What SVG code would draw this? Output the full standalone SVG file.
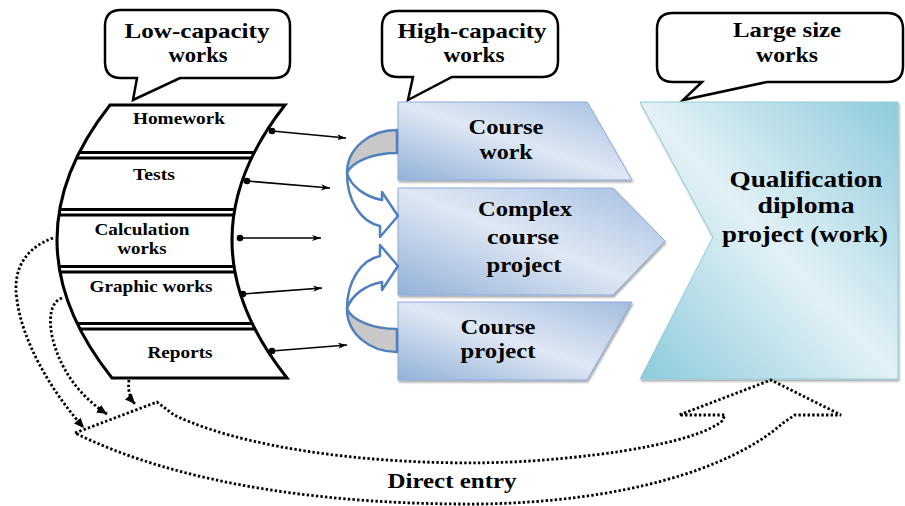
<svg xmlns="http://www.w3.org/2000/svg" width="905" height="506" viewBox="0 0 905 506">
<defs>
<style>
.t{font-family:"Liberation Serif","Times New Roman",serif;font-weight:bold;fill:#000;text-anchor:middle}
.bub{fill:#fff;stroke:#000;stroke-width:2.5;stroke-linejoin:miter}
.blk{stroke:#000;stroke-width:1.6;fill:none}
.dot{stroke:#000;stroke-width:2.8;fill:none;stroke-dasharray:2.4 2.2}
.sep{stroke:#000;stroke-width:3}
.barc{stroke:#4f81bd;stroke-width:2.5;stroke-linejoin:round}
</style>
<linearGradient id="gBlue" x1="0" y1="1" x2="1" y2="0">
<stop offset="0" stop-color="#93b1d8"/>
<stop offset="0.5" stop-color="#dfe8f4"/>
<stop offset="1" stop-color="#a3bddf"/>
</linearGradient>
<linearGradient id="gTeal" x1="0" y1="1" x2="1" y2="0">
<stop offset="0" stop-color="#8ccbdb"/>
<stop offset="0.5" stop-color="#e2f1f6"/>
<stop offset="1" stop-color="#8ecbdb"/>
</linearGradient>
<filter id="sh" x="-5%" y="-5%" width="115%" height="115%">
<feGaussianBlur in="SourceAlpha" stdDeviation="1"/>
<feOffset dx="1" dy="2" result="b"/>
<feComponentTransfer><feFuncA type="linear" slope="0.35"/></feComponentTransfer>
<feMerge><feMergeNode/><feMergeNode in="SourceGraphic"/></feMerge>
</filter>
<marker id="ah" markerWidth="10" markerHeight="8" refX="9" refY="4" orient="auto" markerUnits="userSpaceOnUse">
<path d="M0,1 L9,4 L0,7 L2.5,4 Z" fill="#000"/>
</marker>
<marker id="dh" markerWidth="12" markerHeight="10" refX="10" refY="5" orient="auto" markerUnits="userSpaceOnUse">
<path d="M0,0.5 L10,5 L0,9.5 Z" fill="#000"/>
</marker>
<clipPath id="lc"><path d="M110,105 L285,105 Q178,241 287,378 L112,378 Q3,241 110,105 Z"/></clipPath>
</defs>

<!-- callouts -->
<g id="callout-low">
<path class="bub" d="M121,10 H274 Q290,10 290,26 V62 Q290,78 274,78 H180 L133,100 L137,78 H121 Q105,78 105,62 V26 Q105,10 121,10 Z"/>
<text class="t" x="197" y="38" font-size="21" textLength="145" lengthAdjust="spacingAndGlyphs">Low-capacity</text>
<text class="t" x="198" y="62" font-size="21" textLength="59" lengthAdjust="spacingAndGlyphs">works</text>
</g>
<g id="callout-high">
<path class="bub" d="M398,11 H542 Q558,11 558,27 V61 Q558,77 542,77 H452 L408,100 L413,77 H398 Q382,77 382,61 V27 Q382,11 398,11 Z"/>
<text class="t" x="472" y="38" font-size="21" textLength="149" lengthAdjust="spacingAndGlyphs">High-capacity</text>
<text class="t" x="474" y="62" font-size="21" textLength="61" lengthAdjust="spacingAndGlyphs">works</text>
</g>
<g id="callout-large">
<path class="bub" d="M673,13 H887 Q903,13 903,29 V66 Q903,82 887,82 H767 L683,100 L702,82 H673 Q657,82 657,66 V29 Q657,13 673,13 Z"/>
<text class="t" x="787" y="37" font-size="21" textLength="108" lengthAdjust="spacingAndGlyphs">Large size</text>
<text class="t" x="787" y="62" font-size="21" textLength="62" lengthAdjust="spacingAndGlyphs">works</text>
</g>

<!-- left curved list -->
<g id="low-list">
<path d="M110,105 L285,105 Q178,241 287,378 L112,378 Q3,241 110,105 Z" fill="#fff"/>
<g clip-path="url(#lc)">
<line class="sep" x1="30" y1="152.5" x2="300" y2="152.5"/>
<line class="sep" x1="30" y1="158" x2="300" y2="158"/>
<line class="sep" x1="30" y1="209.5" x2="300" y2="209.5"/>
<line class="sep" x1="30" y1="215" x2="300" y2="215"/>
<line class="sep" x1="30" y1="266.5" x2="300" y2="266.5"/>
<line class="sep" x1="30" y1="272" x2="300" y2="272"/>
<line class="sep" x1="30" y1="323.5" x2="300" y2="323.5"/>
<line class="sep" x1="30" y1="329" x2="300" y2="329"/>
</g>
<path d="M110,105 L285,105 Q178,241 287,378 L112,378 Q3,241 110,105 Z" fill="none" stroke="#000" stroke-width="3"/>
<text class="t" x="179" y="124" font-size="16.5" textLength="92" lengthAdjust="spacingAndGlyphs">Homework</text>
<text class="t" x="154" y="180" font-size="16.5" textLength="42" lengthAdjust="spacingAndGlyphs">Tests</text>
<text class="t" x="142" y="235" font-size="16.5" textLength="95" lengthAdjust="spacingAndGlyphs">Calculation</text>
<text class="t" x="142" y="254" font-size="16.5" textLength="49" lengthAdjust="spacingAndGlyphs">works</text>
<text class="t" x="151" y="292" font-size="16.5" textLength="123" lengthAdjust="spacingAndGlyphs">Graphic works</text>
<text class="t" x="180" y="358" font-size="16.5" textLength="65" lengthAdjust="spacingAndGlyphs">Reports</text>
</g>

<!-- middle blue shapes -->
<g id="course-work">
<path d="M398,102 L587,102 L632,180 L398,180 Z" fill="url(#gBlue)" stroke="#8eaadb" stroke-width="1" filter="url(#sh)"/>
<text class="t" x="506" y="134" font-size="21" textLength="75" lengthAdjust="spacingAndGlyphs">Course</text>
<text class="t" x="506" y="159" font-size="21" textLength="53" lengthAdjust="spacingAndGlyphs">work</text>
</g>
<g id="complex-course-project">
<path d="M398,188 L613,188 L665,241 L613,295 L398,295 Z" fill="url(#gBlue)" stroke="#8eaadb" stroke-width="1" filter="url(#sh)"/>
<text class="t" x="525" y="216" font-size="21" textLength="94" lengthAdjust="spacingAndGlyphs">Complex</text>
<text class="t" x="523" y="244" font-size="21" textLength="72" lengthAdjust="spacingAndGlyphs">course</text>
<text class="t" x="524" y="272" font-size="21" textLength="75" lengthAdjust="spacingAndGlyphs">project</text>
</g>
<g id="course-project">
<path d="M398,302 L632,302 L587,380 L398,380 Z" fill="url(#gBlue)" stroke="#8eaadb" stroke-width="1" filter="url(#sh)"/>
<text class="t" x="498" y="334" font-size="21" textLength="75" lengthAdjust="spacingAndGlyphs">Course</text>
<text class="t" x="498" y="358" font-size="21" textLength="75" lengthAdjust="spacingAndGlyphs">project</text>
</g>

<!-- right big shape -->
<g id="qualification">
<path d="M640,102 L898,102 L898,379 L640,379 L713,237 Z" fill="url(#gTeal)" stroke="#92cddc" stroke-width="1" filter="url(#sh)"/>
<text class="t" x="806" y="187" font-size="23.5" textLength="153" lengthAdjust="spacingAndGlyphs">Qualification</text>
<text class="t" x="806" y="213" font-size="23.5" textLength="97" lengthAdjust="spacingAndGlyphs">diploma</text>
<text class="t" x="805" y="242" font-size="23.5" textLength="166" lengthAdjust="spacingAndGlyphs">project (work)</text>
</g>

<!-- connectors -->
<g id="connectors">
<g id="solid-arrows">
<circle cx="272" cy="131" r="3.3"/>
<line class="blk" x1="272" y1="131" x2="346" y2="138" marker-end="url(#ah)"/>
<circle cx="247" cy="181" r="3.3"/>
<line class="blk" x1="247" y1="181" x2="330" y2="188" marker-end="url(#ah)"/>
<circle cx="240" cy="238" r="3.3"/>
<line class="blk" x1="240" y1="238" x2="321" y2="238" marker-end="url(#ah)"/>
<circle cx="243" cy="294" r="3.3"/>
<line class="blk" x1="243" y1="294" x2="322" y2="288" marker-end="url(#ah)"/>
<circle cx="272" cy="351" r="3.3"/>
<line class="blk" x1="272" y1="351" x2="347" y2="345" marker-end="url(#ah)"/>
</g>
<g id="blue-curved-arrows">
<g id="ua1">
<path class="barc" fill="#c8c8c8" d="M397,130 C370,130 347,148 347,173 C352,162 372,153 397,153 Z"/>
<path class="barc" fill="#fff" d="M347,173 C347,201 361,222 380,226 L380,237 L398,216 L382,192 L382,200 C366,197 351,187 347,173 Z"/>
</g>
<g transform="matrix(1 0 0 -1 0 482)">
<path class="barc" fill="#c8c8c8" d="M397,130 C370,130 347,148 347,173 C352,162 372,153 397,153 Z"/>
<path class="barc" fill="#fff" d="M347,173 C347,201 361,222 380,226 L380,237 L398,216 L382,192 L382,200 C366,197 351,187 347,173 Z"/>
</g>
</g>
<g id="dotted-arrows">
<path class="dot" d="M53,238 C25,248 12,270 17,300 C22,340 50,390 84,428" marker-end="url(#dh)"/>
<path class="dot" d="M62,298 C50,302 48,320 53,340 C62,375 85,400 107,414" marker-end="url(#dh)"/>
<path class="dot" d="M129,380 Q127,395 135,404" marker-end="url(#dh)"/>
<path class="dot" d="M75,433 L157,402 L174,415 C260,456 420,468 530,461 C620,455 700,440 722,421 L725,415 L679,415 L771,380 L841,415 L795,415 L783,423 C730,470 620,502 480,504 C330,505 180,485 75,433 Z"/>
</g>
</g>
<text class="t" x="452" y="488" font-size="20" textLength="129" lengthAdjust="spacingAndGlyphs">Direct entry</text>
</svg>
